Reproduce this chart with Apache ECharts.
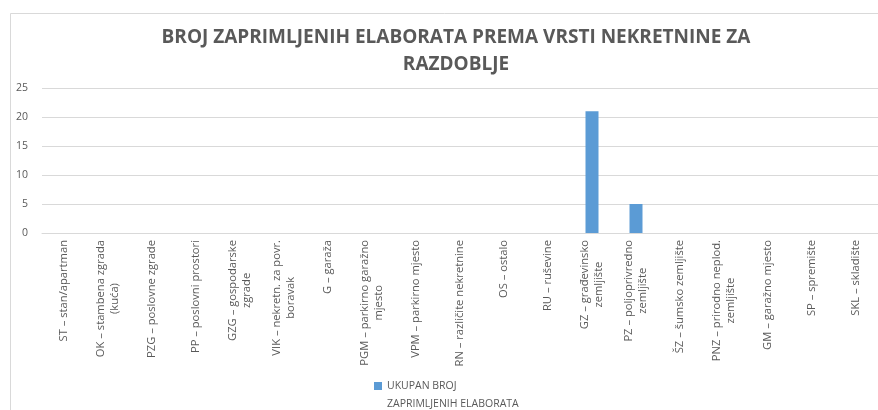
<!DOCTYPE html>
<html>
<head>
<meta charset="utf-8">
<script src="https://cdn.jsdelivr.net/npm/echarts@6/dist/echarts.min.js"></script>
<style>
  html, body { margin: 0; padding: 0; background: #fff; }
  #chart { width: 878px; height: 410px; }
</style>
</head>
<body>
<div id="chart"></div>
<script>
// Property types (each label line is a separate entry)
const categories = [
  ['ST – stan/apartman'],
  ['OK – stambena zgrada', '(kuća)'],
  ['PZG – poslovne zgrade'],
  ['PP – poslovni prostori'],
  ['GZG – gospodarske', 'zgrade'],
  ['VIK – nekretn. za povr.', 'boravak'],
  ['G – garaža'],
  ['PGM – parkirno garažno', 'mjesto'],
  ['VPM – parkirno mjesto'],
  ['RN – različite nekretnine'],
  ['OS – ostalo'],
  ['RU – ruševine'],
  ['GZ – građevinsko', 'zemljište'],
  ['PZ – poljoprivredno', 'zemljište'],
  ['ŠZ – šumsko zemljište'],
  ['PNZ – prirodno neplod.', 'zemljište'],
  ['GM – garažno mjesto'],
  ['SP – spremište'],
  ['SKL – skladište']
];
const seriesName = 'UKUPAN BROJ\nZAPRIMLJENIH ELABORATA';
const totals = [0, 0, 0, 0, 0, 0, 0, 0, 0, 0, 0, 0, 21, 5, 0, 0, 0, 0, 0];
const yTicks = { min: 0, max: 25, interval: 5 };

const FONT = '"Open Sans", sans-serif';
const GREY = '#595959';
const LABEL_SIZE = 11.2;

const chart = echarts.init(document.getElementById('chart'), null, { renderer: 'canvas' });
chart.setOption({
  animation: false,
  backgroundColor: '#ffffff',
  title: {
    text: 'BROJ ZAPRIMLJENIH ELABORATA PREMA VRSTI NEKRETNINE ZA\nRAZDOBLJE',
    left: 451,
    top: 19,
    textAlign: 'center',
    textStyle: {
      fontFamily: FONT,
      fontSize: 19,
      fontWeight: 'bold',
      color: GREY,
      lineHeight: 27
    }
  },
  graphic: [{
    type: 'rect',
    shape: { x: 10.5, y: 13.5, width: 1000, height: 600 },
    style: { fill: 'none', stroke: '#d9d9d9', lineWidth: 1 },
    silent: true,
    z: -1
  }],
  legend: {
    left: 374,
    top: 359,
    padding: 0,
    itemWidth: 8,
    itemHeight: 8,
    icon: 'rect',
    data: [seriesName],
    // blank leading line keeps the marker level with the first text line
    formatter: name => '\n' + name,
    textStyle: {
      fontFamily: FONT,
      fontSize: 10.5,
      color: GREY,
      lineHeight: 18
    }
  },
  grid: {
    left: 42,
    top: 88,
    width: 839,
    height: 145,
    containLabel: false
  },
  xAxis: {
    type: 'category',
    data: categories.map(c => c.join('\n')),
    axisLine: { lineStyle: { color: '#d9d9d9' } },
    axisTick: { show: false },
    axisLabel: {
      interval: 0,
      rotate: 90,
      margin: 7,
      fontFamily: FONT,
      fontSize: LABEL_SIZE,
      color: GREY,
      lineHeight: 14,
      formatter: v => v.split('\n').map(s => '{c|' + s + '}').join('\n'),
      rich: {
        c: { align: 'center', fontFamily: FONT, fontSize: LABEL_SIZE, color: GREY, lineHeight: 14 }
      }
    }
  },
  yAxis: {
    type: 'value',
    min: yTicks.min,
    max: yTicks.max,
    interval: yTicks.interval,
    axisLine: { show: false },
    axisTick: { show: false },
    splitLine: { lineStyle: { color: '#d9d9d9' } },
    axisLabel: {
      margin: 14,
      fontFamily: FONT,
      fontSize: 10.5,
      color: GREY
    }
  },
  series: [{
    name: seriesName,
    type: 'bar',
    data: totals,
    barWidth: 13,
    itemStyle: { color: '#5b9bd5' }
  }]
});
</script>
</body>
</html>
